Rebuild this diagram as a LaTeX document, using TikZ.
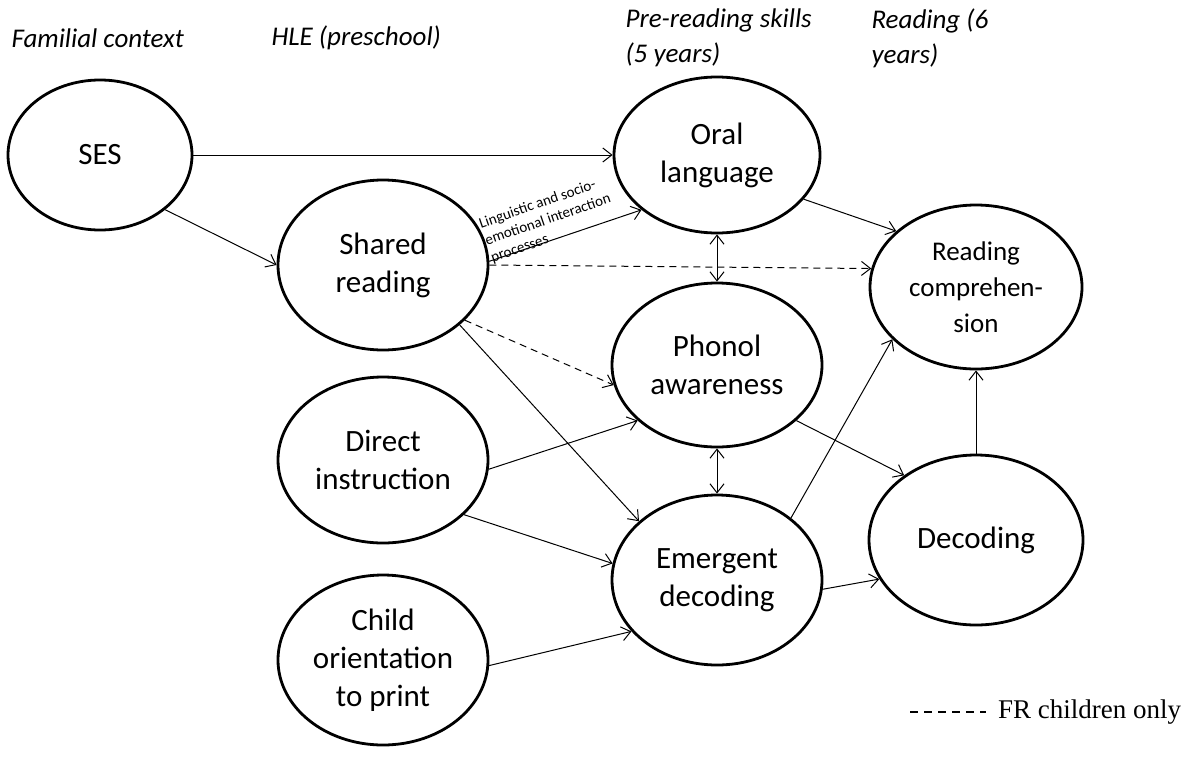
\documentclass[tikz,border=0pt]{standalone}
\usepackage{fontspec}
\setmainfont{Carlito}
\newfontfamily\legendfont{Liberation Serif}
\usetikzlibrary{shapes.geometric,arrows.meta}
\begin{document}
\begin{tikzpicture}[x=1pt,y=-1pt,
  construct/.style={ellipse,draw,line width=2.8pt,inner sep=0pt,align=center,
    font=\fontsize{31}{38}\selectfont},
  header/.style={anchor=west,align=left,font=\fontsize{27}{35}\selectfont\itshape},
  tip/.style={Straight Barb[length=9pt,width=14pt,line width=1pt]},
  link/.style={line width=1pt,-{Straight Barb[length=9pt,width=14pt,line width=1pt]}},
  bilink/.style={line width=1pt,{Straight Barb[length=9pt,width=14pt,line width=1pt]}-{Straight Barb[length=9pt,width=14pt,line width=1pt]}},
  frlink/.style={link,dash pattern=on 7pt off 5pt}]
\useasboundingbox (0,0) rectangle (1198,760);

% column headings
\node[header] (h1) at (8,38) {Familial context};
\node[header] (h2) at (268,38) {HLE (preschool)};
\node[header] (h3) at (622,38) {Pre-reading skills\\(5 years)};
\node[header] (h4) at (868,38) {Reading (6\\years)};

% constructs
\node[construct,minimum width=184pt,minimum height=150pt] (ses) at (100,155) {SES};
\node[construct,minimum width=210pt,minimum height=170pt] (shr) at (383,265) {Shared\\reading};
\node[construct,minimum width=210pt,minimum height=166pt] (dir) at (383,460) {Direct\\instruction};
\node[construct,minimum width=210pt,minimum height=170pt] (cop) at (383,660) {Child\\orientation\\to print};
\node[construct,minimum width=206pt,minimum height=156pt] (oral) at (717,155) {Oral\\language};
\node[construct,minimum width=210pt,minimum height=164pt] (pho) at (717,365) {Phonol\\awareness};
\node[construct,minimum width=210pt,minimum height=170pt] (emd) at (717,580) {Emergent\\decoding};
\node[construct,minimum width=212pt,minimum height=164pt,
      font=\fontsize{27}{36}\selectfont] (rc) at (976,287) {Reading\\comprehen-\\sion};
\node[construct,minimum width=214pt,minimum height=170pt] (dec) at (976,540) {Decoding};

% paths
\draw[link] (ses.east) -- (oral.west);
\draw[link] (ses.-40) -- (shr.west);
\draw[link] (shr.2) -- (oral.216);
\draw[frlink] (shr.east) -- (rc.170);
\draw[frlink] (shr.-34) -- (pho.191);
\draw[link] (shr.-38) -- (emd.143);
\draw[link] (oral.-27) -- (rc.145);
\draw[bilink] (oral.south) -- (pho.north);
\draw[bilink] (pho.south) -- (emd.north);
\draw[link] (dir.-5) -- (pho.215);
\draw[link] (dir.-34) -- (emd.171);
\draw[link] (pho.-35) -- (dec.138);
\draw[link] (emd.40) -- (rc.212);
\draw[link] (emd.-5) -- (dec.202);
\draw[link] (cop.-3) -- (emd.211);
\draw[link] (dec.north) -- (rc.south);

% label of the shared reading -> oral language path
\node[rotate=19,anchor=center,align=left,inner sep=0pt,
      font=\fontsize{15}{18}\selectfont] (lab) at (548,220)
  {Linguistic and socio-\\emotional interaction\\processes};

% legend
\coordinate (lg1) at (910,712);
\coordinate (lg2) at (986,712);
\draw[line width=1.1pt,dash pattern=on 8pt off 6pt] (lg1) -- (lg2);
\node[anchor=west,inner sep=0pt,font=\legendfont\fontsize{27}{32}\selectfont] (lgt) at (998,712) {FR children only};
\end{tikzpicture}
\end{document}
